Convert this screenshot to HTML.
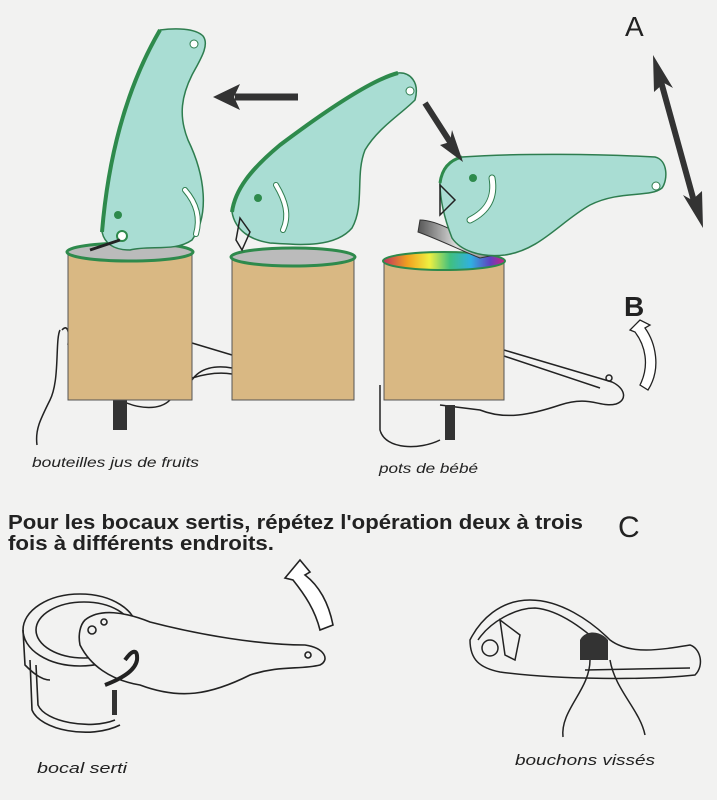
<!DOCTYPE html>
<html><head><meta charset="utf-8"><style>
html,body{margin:0;padding:0;background:#f2f2f1}
svg{display:block}
text{font-family:"Liberation Sans",Arial,sans-serif}
</style></head><body>
<svg width="717" height="800" viewBox="0 0 717 800" xmlns="http://www.w3.org/2000/svg">
<defs>
<linearGradient id="rb" x1="0" x2="1">
<stop offset="0" stop-color="#c03060"/><stop offset="0.2" stop-color="#f0a020"/><stop offset="0.38" stop-color="#f0f040"/><stop offset="0.55" stop-color="#40c080"/><stop offset="0.72" stop-color="#30b0e0"/><stop offset="0.88" stop-color="#6040c0"/><stop offset="1" stop-color="#d02080"/>
</linearGradient>
<linearGradient id="mt" x1="0" x2="1"><stop offset="0" stop-color="#555"/><stop offset="0.5" stop-color="#ddd"/><stop offset="1" stop-color="#777"/></linearGradient>
</defs>
<rect width="717" height="800" fill="#f2f2f1"/>

<g fill="none" stroke="#222" stroke-width="1.5">
<path d="M60 330 C55 340 60 380 50 400 C40 420 35 430 37 445"/>
<path d="M62 330 C66 325 70 328 68 345"/>
<path d="M192 343 L232 355"/>
<path d="M192 380 C200 368 215 365 232 368"/>
<path d="M192 378 C205 374 220 372 232 374"/>
<path d="M120 400 C140 410 160 410 170 400"/>
<path d="M504 350 L612 382 C625 388 628 400 616 404 C600 408 590 395 560 405 C530 415 505 420 480 410 L440 405"/>
<path d="M504 356 L600 388"/>
<path d="M380 385 L380 430 C385 450 420 450 440 440"/>
<circle cx="609" cy="378" r="3"/>
</g>
<rect x="113" y="400" width="14" height="30" fill="#333"/>
<rect x="445" y="405" width="10" height="35" fill="#333"/>

<rect x="68" y="252" width="124" height="148" fill="#d9b883" stroke="#555" stroke-width="1"/>
<ellipse cx="130" cy="252" rx="63" ry="9" fill="#bbb" stroke="#2e8a4c" stroke-width="3"/>
<rect x="232" y="257" width="122" height="143" fill="#d9b883" stroke="#555" stroke-width="1"/>
<ellipse cx="293" cy="257" rx="62" ry="9" fill="#bbb" stroke="#2e8a4c" stroke-width="3"/>
<rect x="384" y="262" width="120" height="138" fill="#d9b883" stroke="#555" stroke-width="1"/>
<ellipse cx="444" cy="261" rx="61" ry="9" fill="url(#rb)" stroke="#2e8a4c" stroke-width="2"/>
<path d="M420 220 C440 220 470 240 495 255 L480 258 C460 250 440 240 418 232 Z" fill="url(#mt)" stroke="#333" stroke-width="1"/>

<!-- opener 1 -->
<path d="M160 30 C175 28 195 28 203 36 C210 45 200 60 192 75 C182 95 178 115 188 140 C205 175 210 215 192 240 C175 252 150 245 130 250 C115 250 105 245 102 232 C108 160 125 90 160 30 Z" fill="#a9ddd3" stroke="#2e7d4f" stroke-width="1.5"/>
<path d="M160 30 C125 90 108 160 102 232" fill="none" stroke="#2e8a4c" stroke-width="4"/>
<circle cx="194" cy="44" r="4" fill="#fff" stroke="#2e7d4f"/>
<path d="M185 190 C198 205 200 220 196 234" fill="none" stroke="#2e7d4f" stroke-width="6" stroke-linecap="round"/>
<path d="M185 190 C198 205 200 220 196 234" fill="none" stroke="#fff" stroke-width="4" stroke-linecap="round"/>
<circle cx="118" cy="215" r="4" fill="#2e8a4c"/>
<circle cx="122" cy="236" r="5" fill="#fff" stroke="#2e8a4c" stroke-width="2"/>
<path d="M90 250 L120 240" stroke="#222" stroke-width="3"/>

<!-- opener 2 -->
<path d="M398 73 C410 72 420 82 415 100 C400 115 378 128 365 150 C355 175 365 205 352 228 C335 248 300 245 270 243 C250 240 235 230 232 212 C235 190 250 170 280 145 C320 115 370 80 398 73 Z" fill="#a9ddd3" stroke="#2e7d4f" stroke-width="1.5"/>
<path d="M398 73 C370 80 320 115 280 145 C250 170 235 190 232 212" fill="none" stroke="#2e8a4c" stroke-width="4"/>
<circle cx="410" cy="91" r="4" fill="#fff" stroke="#2e7d4f"/>
<path d="M276 185 C285 200 290 215 283 230" fill="none" stroke="#2e7d4f" stroke-width="6" stroke-linecap="round"/>
<path d="M276 185 C285 200 290 215 283 230" fill="none" stroke="#fff" stroke-width="4" stroke-linecap="round"/>
<circle cx="258" cy="198" r="4" fill="#2e8a4c"/>
<path d="M240 218 L250 232 L242 250 L236 240 Z" fill="none" stroke="#222" stroke-width="1.5"/>

<!-- opener 3 -->
<path d="M462 157 C520 153 600 154 655 157 C668 160 668 180 662 188 C650 198 620 190 590 205 C560 222 540 250 505 255 C480 258 460 250 452 238 C445 220 440 200 440 183 C442 168 450 160 462 157 Z" fill="#a9ddd3" stroke="#2e7d4f" stroke-width="1.5"/>
<path d="M462 157 C450 160 442 168 440 183" fill="none" stroke="#2e8a4c" stroke-width="3"/>
<circle cx="656" cy="186" r="4" fill="#fff" stroke="#2e7d4f"/>
<path d="M492 178 C495 195 490 210 470 220" fill="none" stroke="#2e7d4f" stroke-width="7" stroke-linecap="round"/>
<path d="M492 178 C495 195 490 210 470 220" fill="none" stroke="#fff" stroke-width="5" stroke-linecap="round"/>
<circle cx="473" cy="178" r="4" fill="#2e8a4c"/>
<path d="M440 185 L455 200 L440 215 Z" fill="none" stroke="#222" stroke-width="1.5"/>

<!-- arrows -->
<path d="M298 97 L235 97" stroke="#333" stroke-width="7"/>
<path d="M213 97 L240 84 L234 97 L240 110 Z" fill="#333"/>
<path d="M425 103 L452 145" stroke="#333" stroke-width="6"/>
<path d="M463 162 L440 145 L450 142 L452 130 Z" fill="#333"/>
<path d="M660 78 L695 205" stroke="#333" stroke-width="6"/>
<path d="M653 55 L673 88 L664 83 L654 92 Z" fill="#333"/>
<path d="M703 228 L683 195 L692 200 L702 191 Z" fill="#333"/>
<path d="M640 320 L630 330 L635 332 C645 345 650 365 640 385 L648 390 C662 368 655 342 645 328 L650 325 Z" fill="#fff" stroke="#222" stroke-width="1.3"/>

<text x="625" y="36" font-size="28" fill="#222">A</text>
<text x="624" y="316" font-size="28" font-weight="bold" fill="#222">B</text>
<text x="618" y="537" font-size="30" fill="#222">C</text>

<text x="32" y="467" font-size="14" font-style="italic" fill="#222" textLength="167" lengthAdjust="spacingAndGlyphs">bouteilles jus de fruits</text>
<text x="379" y="473" font-size="14" font-style="italic" fill="#222" textLength="99" lengthAdjust="spacingAndGlyphs">pots de bébé</text>
<text x="8" y="529" font-size="20" font-weight="bold" fill="#222" textLength="575" lengthAdjust="spacingAndGlyphs">Pour les bocaux sertis, répétez l'opération deux à trois</text>
<text x="8" y="550" font-size="20" font-weight="bold" fill="#222" textLength="266" lengthAdjust="spacingAndGlyphs">fois à différents endroits.</text>
<text x="37" y="773" font-size="15" font-style="italic" fill="#222" textLength="90" lengthAdjust="spacingAndGlyphs">bocal serti</text>
<text x="515" y="765" font-size="15" font-style="italic" fill="#222" textLength="140" lengthAdjust="spacingAndGlyphs">bouchons vissés</text>

<!-- bottom left jar -->
<g fill="none" stroke="#222" stroke-width="1.6">
<ellipse cx="80" cy="630" rx="57" ry="36"/>
<ellipse cx="84" cy="630" rx="48" ry="28"/>
<path d="M23 630 L25 665 C30 670 40 680 50 680"/>
<path d="M30 660 L32 710 C40 730 90 740 120 725"/>
<path d="M36 665 L38 705 C45 722 90 730 115 720"/>
<path d="M85 620 C100 608 125 612 150 622 C200 635 260 645 305 645 C325 648 330 660 320 665 C300 670 280 665 250 675 C210 695 180 700 140 685 C110 680 90 665 80 645 C78 635 80 625 85 620 Z" fill="#f2f2f1"/>
<path d="M125 660 C132 650 138 648 137 660 C135 672 118 680 105 685" stroke-width="4"/>
<circle cx="92" cy="630" r="4"/><circle cx="104" cy="622" r="3"/>
<circle cx="308" cy="655" r="3"/>
<path d="M300 560 L285 578 L293 580 C305 595 315 610 320 630 L333 625 C328 600 318 585 305 575 L310 572 Z" fill="#fff"/>
</g>
<rect x="112" y="690" width="5" height="25" fill="#333"/>

<!-- bottom right -->
<g fill="none" stroke="#222" stroke-width="1.5">
<path d="M470 640 C480 620 500 600 530 600 C560 600 590 620 610 640 C630 655 660 650 690 645 C700 648 705 665 695 675 C650 680 560 680 500 672 C480 668 470 660 470 640 Z"/>
<path d="M478 640 C490 622 515 608 535 608 C560 610 585 630 605 648"/>
<path d="M585 670 L690 668"/>
<path d="M590 660 C590 690 560 710 563 737"/>
<path d="M610 660 C615 690 640 710 645 735"/>
<ellipse cx="490" cy="648" rx="8" ry="8"/>
<path d="M500 620 L520 635 L515 660 L505 655 Z"/>
</g>
<path d="M580 640 C585 630 600 630 608 640 L608 660 L580 660 Z" fill="#333"/>
</svg>
</body></html>
